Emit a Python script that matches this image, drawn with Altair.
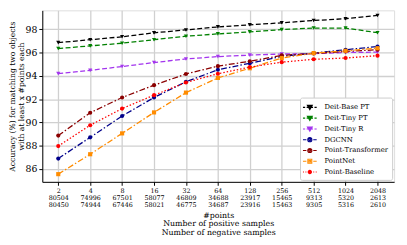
import altair as alt
import pandas as pd
import json

points = [2, 4, 8, 16, 32, 64, 128, 256, 512, 1024, 2048]
pos_samples = [80504, 74996, 67501, 58077, 46809, 34688, 23917, 15465, 9313, 5320, 2613]
neg_samples = [80450, 74944, 67446, 58021, 46775, 34687, 23916, 15463, 9305, 5316, 2610]

series_names = ["Deit-Base PT", "Deit-Tiny PT", "Deit-Tiny R", "DGCNN",
                "Point-Transformer", "PointNet", "Point-Baseline"]

deit_base_pt = [96.85, 97.10, 97.35, 97.69, 97.94, 98.20, 98.38, 98.55, 98.75, 98.90, 99.18]
deit_tiny_pt = [96.34, 96.57, 96.80, 97.10, 97.40, 97.60, 97.77, 97.97, 98.10, 98.10, 97.70]
deit_tiny_r = [94.19, 94.47, 94.80, 95.14, 95.45, 95.65, 95.78, 95.87, 95.90, 96.01, 96.03]
dgcnn = [86.90, 88.72, 90.55, 92.14, 93.49, 94.52, 95.08, 95.67, 95.95, 96.24, 96.51]
point_transformer = [88.87, 90.83, 92.14, 93.20, 94.16, 94.83, 95.25, 95.76, 95.92, 96.09, 96.24]
pointnet = [85.56, 87.27, 89.06, 90.86, 92.56, 93.82, 94.65, 95.53, 95.95, 96.15, 96.37]
point_baseline = [87.97, 89.76, 91.19, 92.34, 93.43, 94.18, 94.75, 95.17, 95.42, 95.53, 95.73]

all_values = [deit_base_pt, deit_tiny_pt, deit_tiny_r, dgcnn,
              point_transformer, pointnet, point_baseline]

colors = ["#000000", "#008000", "#a335ee", "#00008b", "#8b0000", "#ff8c00", "#ff0000"]
dashes = [[5, 2.5], [5, 2.5], [5, 2.5], [6, 2.2, 1.5, 2.2], [6, 2.2, 1.5, 2.2],
          [6, 2.2, 1.5, 2.2], [1.5, 2.0]]
markers = ["triangle-down", "triangle-down", "triangle-down", "circle", "circle", "square", "circle"]

# legend symbols: line segments + (stroke-filled) marker, in path units
tri = "M-0.5,-0.4L0.5,-0.4L0,0.45ZM-0.25,-0.22L0.25,-0.22L0,0.2ZM0,-0.4V0.2"
circ = ("M0.42,0A0.42,0.42 0 1,1 -0.42,0A0.42,0.42 0 1,1 0.42,0Z"
        "M0.18,0A0.18,0.18 0 1,1 -0.18,0A0.18,0.18 0 1,1 0.18,0Z")
circ_s = ("M0.34,0A0.34,0.34 0 1,1 -0.34,0A0.34,0.34 0 1,1 0.34,0Z"
          "M0.12,0A0.12,0.12 0 1,1 -0.12,0A0.12,0.12 0 1,1 0.12,0Z")
sq = "M-0.4,-0.4H0.4V0.4H-0.4ZM-0.15,-0.15H0.15V0.15H-0.15Z"
dash_line = "M-1.4,0H-0.95M-0.65,0H0.65M0.95,0H1.4"
dashdot_line = "M-1.4,0H-0.7M0.7,0H1.4"
dot_line = "M-1.4,0H-1.2M-0.9,0H-0.7M-0.4,0H-0.2M0.2,0H0.4M0.7,0H0.9M1.2,0H1.4"
legend_paths = [dash_line + tri, dash_line + tri, dash_line + tri,
                dashdot_line + circ, dashdot_line + circ, dashdot_line + sq,
                dot_line + circ_s]

rows = []
for name, vals in zip(series_names, all_values):
    for i, v in enumerate(vals):
        rows.append({"series": name, "idx": i, "acc": v})
df = pd.DataFrame(rows)

label_arr = [[str(p), str(a), str(b)] for p, a, b in zip(points, pos_samples, neg_samples)]
label_expr = json.dumps(label_arr).replace('"', "'") + "[datum.value]"

FONT = "DejaVu Serif"

x_enc = alt.X("idx:Q",
              scale=alt.Scale(domain=[-0.5, 10.52], nice=False, zero=False),
              axis=alt.Axis(values=list(range(11)), labelExpr=label_expr,
                            title=["#points", "Number of positive samples", "Number of negative samples"],
                            labelFontSize=6.5, labelLineHeight=7.5, labelPadding=2,
                            titleFontSize=8, titleLineHeight=9, titlePadding=3,
                            titleFontWeight="normal", labelFont=FONT, titleFont=FONT,
                            grid=True, gridColor="#d0d0d0", gridWidth=1.3,
                            tickColor="#000", tickSize=3.5, domainColor="#000",
                            labelColor="#000", titleColor="#000", labelFlush=False))
y_enc = alt.Y("acc:Q",
              scale=alt.Scale(domain=[84.9, 99.62], nice=False, zero=False),
              axis=alt.Axis(values=[86, 88, 90, 92, 94, 96, 98], format="d",
                            title=["Accuracy (%) for matching two objects", "with at least x #points each"],
                            labelFontSize=9.5, labelPadding=2, labelFont=FONT,
                            titleFontSize=7.8, titleLineHeight=9, titlePadding=0,
                            titleFontWeight="normal", titleFont=FONT,
                            grid=True, gridColor="#d0d0d0", gridWidth=1.3,
                            tickColor="#000", tickSize=3.5, domainColor="#000",
                            labelColor="#000", titleColor="#000"))

base = alt.Chart(df)

lines = base.mark_line(strokeWidth=1.3).encode(
    x=x_enc, y=y_enc,
    color=alt.Color("series:N", scale=alt.Scale(domain=series_names, range=colors), legend=None),
    strokeDash=alt.StrokeDash("series:N", scale=alt.Scale(domain=series_names, range=dashes), legend=None),
)

pts = base.mark_point(filled=True, size=18, opacity=1).encode(
    x=x_enc, y=y_enc,
    color=alt.Color("series:N", scale=alt.Scale(domain=series_names, range=colors), legend=None),
    shape=alt.Shape("series:N", scale=alt.Scale(domain=series_names, range=markers), legend=None),
)

leg_props = dict(title=None, orient="bottom-right", offset=2, labelFont=FONT, labelFontSize=7,
                 labelColor="#000", symbolSize=100, symbolStrokeWidth=1.1, labelOffset=9,
                 rowPadding=0, padding=4, fillColor="white", strokeColor="#cccccc",
                 cornerRadius=2)

legend_layer = base.transform_filter("false").mark_point(filled=False, size=100, strokeWidth=1.1, opacity=1).encode(
    x=x_enc, y=y_enc,
    color=alt.Color("series:N", scale=alt.Scale(domain=series_names, range=colors), legend=alt.Legend(**leg_props)),
    shape=alt.Shape("series:N", scale=alt.Scale(domain=series_names, range=legend_paths), legend=alt.Legend(**leg_props)),
)

chart = alt.layer(lines, pts, legend_layer).resolve_scale(
    shape="independent", color="independent"
).properties(
    width=359, height=175,
    autosize=alt.AutoSizeParams(type="none"),
    padding={"left": 35, "top": 0, "right": 5, "bottom": 60},
).configure_view(stroke="#a0a0a0", strokeWidth=2).configure(font=FONT)

chart.save("out.html", embed_options={"renderer": "svg", "actions": False})
